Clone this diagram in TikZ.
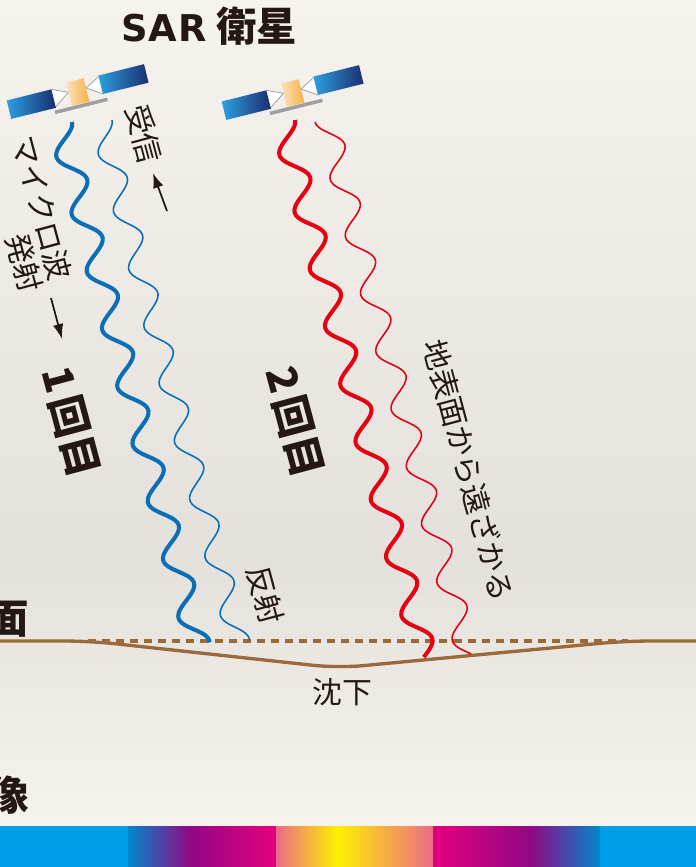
\documentclass[tikz,border=0pt]{standalone}
\usepackage{fontspec}
\setmainfont{Noto Sans CJK JP}
\newfontfamily\latinbold{DejaVu Sans}[LetterSpace=3]
\usetikzlibrary{arrows.meta}

\definecolor{ink}{HTML}{231815}
\definecolor{paper}{HTML}{F6F3EE}
\definecolor{paperdim}{HTML}{E4E1DC}
\definecolor{waveblue}{HTML}{0B6FB8}
\definecolor{wavered}{HTML}{E60012}
\definecolor{soil}{HTML}{9C6A3A}
\definecolor{panellight}{HTML}{2C9FE0}
\definecolor{paneldark}{HTML}{1B2E6E}
\definecolor{bodylight}{HTML}{FCE2BA}
\definecolor{bodydark}{HTML}{F5B24A}
\definecolor{barcyan}{HTML}{00A0E9}
\definecolor{bardeep}{HTML}{0088CC}
\definecolor{barpurple}{HTML}{920783}
\definecolor{barmagenta}{HTML}{E4007F}
\definecolor{barpink}{HTML}{EB6B88}
\definecolor{baryellow}{HTML}{FFF100}

% satellite with its body centred at #1
\newcommand\satellite[1]{%
  \begin{scope}[shift={#1}, rotate=14]
    \draw[strut] (-25,-10) -- (-9,-3) -- (-25,8);
    \draw[strut] (24,-11) -- (9,-3) -- (24,7);
    \shade[left color=panellight, right color=paneldark] (-71,-10) rectangle (-25,9);
    \shade[left color=panellight, right color=paneldark] (24,-12) rectangle (71,7);
    \shade[left color=bodylight, right color=bodydark] (-9,-13) rectangle (9,11);
    \fill[gray!75] (-27,11.5) rectangle (27,15);
  \end{scope}}

% wave along the beam: style, start x, start y, amplitude, length
% (one period is 59.6 along the beam, 6.0403 = 360/59.6)
\newcommand\radarwave[5]{%
  \draw[#1] plot[domain=0:#5, samples=260, smooth, variable=\t]
    ({#2 + 0.256*\t - (#4)*0.967*(1-cos(6.0403*\t))},
     {#3 + 0.967*\t + (#4)*0.256*(1-cos(6.0403*\t))});}

\begin{document}
\begin{tikzpicture}[x=0.02cm, y=-0.02cm,
    lbl/.style={font=\fontsize{17}{19}\selectfont, text=ink, inner sep=0pt},
    heading/.style={font=\bfseries\fontsize{23.5}{26}\selectfont, text=ink, inner sep=0pt},
    strut/.style={draw=gray!80, fill=white, line width=0.4pt},
    thickwave/.style={line width=2.3pt},
    thinwave/.style={line width=0.9pt},
    pointer/.style={-{Latex[length=8.5pt,width=6pt]}, line width=1pt, draw=ink}]
    \useasboundingbox (0,0) rectangle (696,867);
    \clip (0,0) rectangle (696,867);

    % paper and colour scale
    \shade[top color=paper, bottom color=paperdim] (0,0) rectangle (696,560);
    \shade[top color=paperdim, bottom color=paper] (0,560) rectangle (696,826);
    \fill[barcyan] (0,826) rectangle (128.5,867);
    \shade[left color=bardeep, right color=barpurple] (128,826) rectangle (190.5,867);
    \shade[left color=barpurple, right color=barmagenta] (190,826) rectangle (276.5,867);
    \shade[left color=barpink, right color=baryellow] (276,826) rectangle (337.5,867);
    \shade[left color=baryellow, right color=barpink] (337,826) rectangle (433.5,867);
    \shade[left color=barmagenta, right color=barpurple] (433,826) rectangle (530.5,867);
    \shade[left color=barpurple, right color=bardeep] (530,826) rectangle (600.5,867);
    \fill[barcyan] (600,826) rectangle (696,867);

    \node[heading, font=\bfseries\fontsize{23}{26}\selectfont] (title) at (209,26) {{\latinbold\fontsize{21}{26}\selectfont SAR} 衛星};

    \satellite{(78,93)}
    \satellite{(293,94)}

    % ground, the sunken part and the old level
    \draw[soil, line width=1.9pt, rounded corners=0.5cm] (-5,641) -- (90,641) -- (338,668) -- (625,641) -- (701,641);
    \draw[soil, line width=2.3pt, dash pattern=on 4.6pt off 3.4pt] (88,641) -- (628,641);

    \radarwave{waveblue, thickwave}{72}{122}{12}{538}
    \radarwave{waveblue, thinwave}{112}{120}{11}{538}
    \radarwave{wavered, thickwave}{295}{120}{12}{552}
    \radarwave{wavered, thinwave}{315}{122}{-11.5}{554}

    \node[lbl, rotate=-75] (micro) at (42,208) {マイクロ波};
    \node[lbl, rotate=-75] (emit) at (24,263) {発射};
    \node[lbl, rotate=-75] (recv) at (144,134) {受信};
    \coordinate (emitA) at (51,298);
    \coordinate (emitB) at (62,339);
    \coordinate (recvA) at (167,211);
    \coordinate (recvB) at (153,173);
    \draw[pointer] (emitA) -- (emitB);
    \draw[pointer] (recvA) -- (recvB);

    \node[heading, rotate=-75] (first) at (71,422) {1\hspace{3pt}回目};
    \node[heading, rotate=-75] (second) at (295,422) {2\hspace{3pt}回目};
    \node[lbl, rotate=-75] (echo) at (265,595) {反射};
    \node[lbl, rotate=-75] (away) at (469,470) {地表面から遠ざかる};
    \node[lbl] (sink) at (342,692) {沈下};

    \node[heading, font=\bfseries\fontsize{23}{26}\selectfont, anchor=east] (surface) at (29,619) {面};
    \node[heading, font=\bfseries\fontsize{23}{26}\selectfont, anchor=east] (image) at (29,795) {像};
\end{tikzpicture}
\end{document}
